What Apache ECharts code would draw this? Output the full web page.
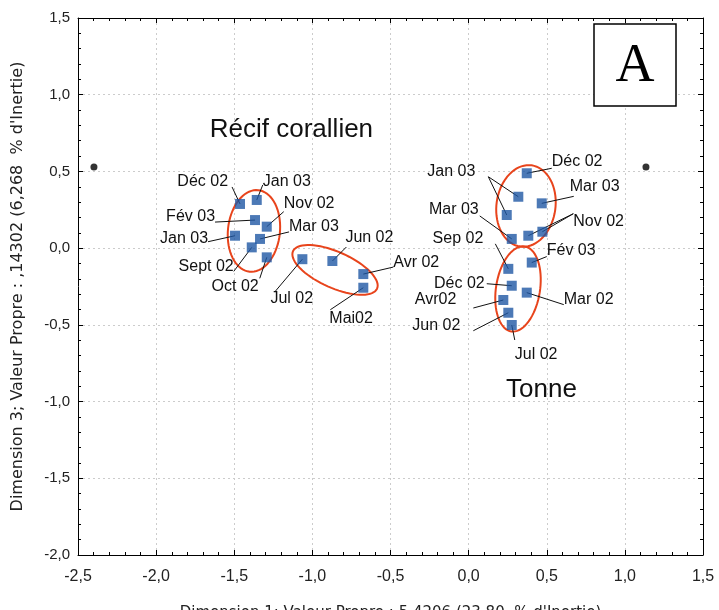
<!DOCTYPE html>
<html><head><meta charset="utf-8">
<script src="https://cdn.jsdelivr.net/npm/echarts@6/dist/echarts.min.js"></script>
<style>html,body{margin:0;padding:0;background:#fff}#c{width:719px;height:610px}</style>
</head><body><div id="c"></div>
<script>
// ---- Data ----
const recifMonths = ['Déc 02','Jan 03','Fév 03','Nov 02','Jan 03','Mar 03','Sept 02','Oct 02','Jul 02','Jun 02','Avr 02','Mai02'];
const recifX = [-1.463,-1.356,-1.367,-1.292,-1.495,-1.335,-1.388,-1.292,-1.064,-0.872,-0.674,-0.674];
const recifY = [0.288,0.314,0.183,0.140,0.081,0.060,0.005,-0.060,-0.072,-0.084,-0.169,-0.258];

const tonneMonths = ['Déc 02','Jan 03','Mar 03','Jan 03','Mar 03','Nov 02','Nov 02','Sep 02','Fév 03','Déc 02','Mar 02','Avr02','Jun 02','Jul 02'];
const tonneX = [0.372,0.318,0.468,0.244,0.276,0.382,0.472,0.254,0.404,0.276,0.372,0.222,0.254,0.276];
const tonneY = [0.488,0.335,0.292,0.216,0.060,0.081,0.107,-0.135,-0.094,-0.245,-0.290,-0.338,-0.421,-0.501];

const supX = [-2.398, 1.135];
const supY = [0.529, 0.529];

const xTickValues = [-2.5,-2.0,-1.5,-1.0,-0.5,0.0,0.5,1.0,1.5];
const yTickValues = [-2.0,-1.5,-1.0,-0.5,0.0,0.5,1.0,1.5];

const groupNames = ['Récif corallien','Tonne'];
const groupNameX = [-1.134, 0.466];
const groupNameY = [0.770, -0.925];

// group outlines: centres in data units
const outlineCx = [-1.374, -0.855, 0.367, 0.316];
const outlineCy = [0.112, -0.142, 0.275, -0.266];

// ---- Styles / layout (pixels) ----
const outlineStyle = [
  {rx: 26, ry: 41, rot: 6},
  {rx: 46, ry: 18, rot: 24},
  {rx: 29.5, ry: 41, rot: 8},
  {rx: 22, ry: 43, rot: 9}
];
// annotations: series (0 recif, 1 tonne), point indices, text offset, line end offset (px, relative to first point)
const annotations = [
  {s:0, p:[0], tx:-12, ty:-22, al:'right', lx:-8, ly:-17},
  {s:0, p:[1], tx:6, ty:-18, al:'left', lx:6, ly:-15},
  {s:0, p:[3], tx:17, ty:-23, al:'left', lx:17, ly:-15},
  {s:0, p:[2], tx:-40, ty:-3, al:'right', lx:-40, ly:2},
  {s:0, p:[5], tx:29, ty:-12, al:'left', lx:29, ly:-7},
  {s:0, p:[4], tx:-27, ty:3, al:'right', lx:-27, ly:6},
  {s:0, p:[6], tx:-18, ty:19, al:'right', lx:-18, ly:24},
  {s:0, p:[7], tx:-8, ty:29, al:'right', lx:-7, ly:21},
  {s:0, p:[8], tx:-32, ty:39, al:'left', lx:-27, ly:32},
  {s:0, p:[9], tx:13, ty:-23, al:'left', lx:14, ly:-14},
  {s:0, p:[10], tx:30, ty:-11, al:'left', lx:30, ly:-7},
  {s:0, p:[11], tx:-34, ty:31, al:'left', lx:-33, ly:22},
  {s:1, p:[0], tx:25, ty:-12, al:'left', lx:25, ly:-5},
  {s:1, p:[1,3], tx:-43, ty:-25, al:'right', lx:-30, ly:-20},
  {s:1, p:[2], tx:28, ty:-17, al:'left', lx:32, ly:-7},
  {s:1, p:[4], tx:-33, ty:-29, al:'right', lx:-32, ly:-23},
  {s:1, p:[5,6], tx:45, ty:-14, al:'left', lx:45, ly:-22},
  {s:1, p:[7], tx:-25, ty:-30, al:'right', lx:-13, ly:-25},
  {s:1, p:[8], tx:15, ty:-12, al:'left', lx:15, ly:-6},
  {s:1, p:[9], tx:-27, ty:-2, al:'right', lx:-25, ly:-2},
  {s:1, p:[10], tx:37, ty:7, al:'left', lx:37, ly:12},
  {s:1, p:[11], tx:-47, ty:0, al:'right', lx:-30, ly:8},
  {s:1, p:[12], tx:-48, ty:13, al:'right', lx:-35, ly:18},
  {s:1, p:[13], tx:3, ty:30, al:'left', lx:3, ly:15}
];

const FONT = '"Liberation Sans", Arial, sans-serif';
const WIDE = '"DejaVu Sans", "Liberation Sans", sans-serif';
const SER = [
  {x: recifX, y: recifY, m: recifMonths},
  {x: tonneX, y: tonneY, m: tonneMonths}
];
const fmt = v => v.toFixed(1).replace('.', ',');

const chart = echarts.init(document.getElementById('c'), null, {renderer: 'canvas'});

const baseAxis = {
  type: 'value', interval: 0.5,
  axisLine: {show: true, onZero: false, lineStyle: {color: '#000', width: 1}},
  axisTick: {show: true, inside: true, length: 5, lineStyle: {color: '#000'}},
  minorTick: {show: true, splitNumber: 5, length: 3, lineStyle: {color: '#000'}},
  splitLine: {show: false},
  axisLabel: {show: false}
};

const option = {
  backgroundColor: '#fff',
  animation: false,
  grid: {left: 78, right: 16, top: 18, bottom: 55, show: false, containLabel: false, outerBoundsMode: 'none'},
  xAxis: [
    Object.assign({}, baseAxis, {
      min: -2.5, max: 1.5, position: 'bottom',
      splitLine: {show: true, lineStyle: {color: '#cccccc', type: [2, 3], width: 1}},
      axisLabel: {show: true, formatter: fmt, fontSize: 16, color: '#222', fontFamily: FONT, margin: 14},
      name: 'Dimension 1; Valeur Propre : 5,4206 (23,80  % d\'Inertie)',
      nameLocation: 'middle', nameGap: 51,
      nameTextStyle: {fontSize: 15, color: '#222', fontFamily: WIDE}
    }),
    Object.assign({}, baseAxis, {min: -2.5, max: 1.5, position: 'top'})
  ],
  yAxis: [
    Object.assign({}, baseAxis, {
      min: -2.0, max: 1.5, position: 'left',
      splitLine: {show: true, lineStyle: {color: '#cccccc', type: [2, 3], width: 1}},
      axisLabel: {show: true, formatter: fmt, fontSize: 15, color: '#222', fontFamily: FONT, margin: 8},
      name: 'Dimension 3; Valeur Propre : ,14302 (6,268  % d\'Inertie)',
      nameLocation: 'middle', nameGap: 52,
      nameTextStyle: {fontSize: 16, color: '#222', fontFamily: WIDE}
    }),
    Object.assign({}, baseAxis, {min: -2.0, max: 1.5, position: 'right'})
  ],
  series: [
    {
      type: 'custom', name: 'outlines', z: 2, silent: true,
      data: outlineCx.map((x, i) => [x, outlineCy[i]]),
      renderItem: function (params, api) {
        const c = api.coord([api.value(0), api.value(1)]);
        const st = outlineStyle[params.dataIndex];
        const th = st.rot * Math.PI / 180;
        const pts = [];
        for (let k = 0; k < 72; k++) {
          const t = k / 72 * Math.PI * 2;
          const ex = st.rx * Math.cos(t), ey = st.ry * Math.sin(t);
          pts.push([c[0] + ex * Math.cos(th) - ey * Math.sin(th), c[1] + ex * Math.sin(th) + ey * Math.cos(th)]);
        }
        return {type: 'polygon', shape: {points: pts}, style: {fill: 'none', stroke: '#e8441c', lineWidth: 2}};
      }
    },
    {
      type: 'custom', name: 'annotations', z: 3, silent: true,
      data: annotations.map(a => [SER[a.s].x[a.p[0]], SER[a.s].y[a.p[0]]]),
      renderItem: function (params, api) {
        const a = annotations[params.dataIndex];
        const ser = SER[a.s];
        const pts = a.p.map(i => api.coord([ser.x[i], ser.y[i]]));
        const p0 = pts[0];
        const le = [p0[0] + a.lx, p0[1] + a.ly];
        const children = pts.map(p => ({
          type: 'line', shape: {x1: p[0], y1: p[1], x2: le[0], y2: le[1]},
          style: {stroke: '#111', lineWidth: 1}
        }));
        children.push({
          type: 'text', x: p0[0] + a.tx, y: p0[1] + a.ty,
          style: {text: ser.m[a.p[0]], align: a.al, verticalAlign: 'middle', textAlign: a.al, textVerticalAlign: 'middle',
                  fontSize: 16, fontFamily: FONT, fill: '#111'}
        });
        return {type: 'group', children: children};
      }
    },
    {
      type: 'custom', name: 'groups', z: 3, silent: true,
      data: groupNameX.map((x, i) => [x, groupNameY[i]]),
      renderItem: function (params, api) {
        const c = api.coord([api.value(0), api.value(1)]);
        return {type: 'text', x: c[0], y: c[1],
          style: {text: groupNames[params.dataIndex], align: 'center', verticalAlign: 'middle', textAlign: 'center', textVerticalAlign: 'middle',
                  fontSize: 26, fontFamily: FONT, fill: '#111'}};
      }
    },
    {
      type: 'scatter', name: 'Récif', z: 5, symbol: 'rect', symbolSize: 10,
      itemStyle: {color: '#1f58a4', borderWidth: 0},
      data: recifX.map((x, i) => [x, recifY[i]])
    },
    {
      type: 'scatter', name: 'Tonne', z: 5, symbol: 'rect', symbolSize: 10,
      itemStyle: {color: '#1f58a4', borderWidth: 0},
      data: tonneX.map((x, i) => [x, tonneY[i]])
    },
    {
      type: 'scatter', name: 'supp', z: 5, symbol: 'circle', symbolSize: 7,
      itemStyle: {color: '#000'},
      data: supX.map((x, i) => [x, supY[i]])
    }
  ],
  graphic: [
    {type: 'rect', x: 594, y: 24, shape: {width: 82, height: 82}, style: {fill: '#fff', stroke: '#000', lineWidth: 1.5}, z: 10},
    {type: 'text', x: 635, y: 67, z: 11,
     style: {text: 'A', fontSize: 54, fontFamily: '"Liberation Serif", "Times New Roman", serif', fill: '#000', align: 'center', verticalAlign: 'middle', textAlign: 'center', textVerticalAlign: 'middle'}}
  ]
};
chart.setOption(option);
</script>
</body></html>
